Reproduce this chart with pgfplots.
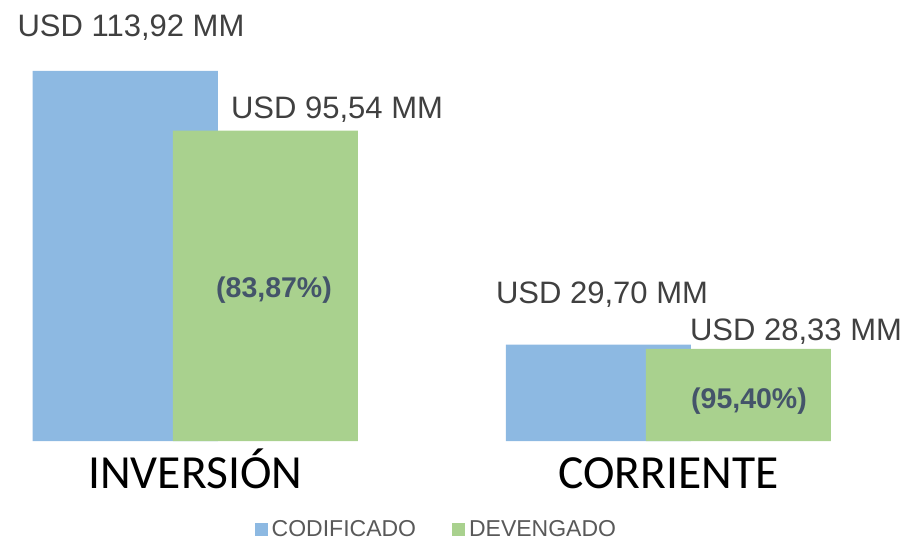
\documentclass[border=0pt]{standalone}
\usepackage{pgfplots}
\pgfplotsset{compat=1.18}
\usepackage{fontspec}
\setmainfont{Liberation Sans}
\newfontfamily\calibri{Carlito}
\definecolor{codblue}{HTML}{8DB9E2}
\definecolor{devgreen}{HTML}{A9D18E}
\definecolor{valgray}{HTML}{404040}
\definecolor{pctcol}{HTML}{44546A}
\definecolor{leggray}{HTML}{595959}
\begin{document}
\begin{tikzpicture}
\useasboundingbox (0,0) rectangle (910pt,542pt);
\begin{axis}[
  at={(0pt,101pt)}, anchor=south west,
  scale only axis, width=910pt, height=370pt,
  xmin=-0.41279, xmax=1.51110,
  ymin=0, ymax=113.92,
  clip=false,
  axis line style={draw=none},
  ytick=\empty,
  xtick={0,1}, xticklabels={INVERSIÓN,CORRIENTE},
  major tick length=0pt,
  xticklabel style={font=\calibri\fontsize{47.5}{52}\selectfont, text=black, anchor=base, yshift=-47pt},
  ybar, bar width=185pt,
  legend columns=2,
  legend style={draw=none, fill=none, at={(0.479,-0.238)}, anchor=center,
    font=\fontsize{23}{26}\selectfont, text=leggray, inner sep=0pt,
    nodes={inner sep=1pt},
    /tikz/every odd column/.append style={column sep=3pt},
    /tikz/every even column/.append style={column sep=35pt}},
  legend image code/.code={\fill[#1] (0pt,-6.5pt) rectangle (13pt,6.5pt);},
]
\addplot[fill=codblue, draw=none, bar shift=-70pt] coordinates {(0,113.92) (1,29.70)};
\addplot[fill=devgreen, draw=none, bar shift=70pt] coordinates {(0,95.54) (1,28.33)};
\legend{CODIFICADO,DEVENGADO}
\begin{scope}[every node/.style={font=\fontsize{31}{36}\selectfont, text=valgray, anchor=base, inner sep=0pt}]
\node[xshift=-64.25pt, yshift=34pt] at (axis cs:0,113.92) {USD 113,92 MM};
\node[xshift=141.75pt, yshift=12pt] at (axis cs:0,95.54) {USD 95,54 MM};
\node[xshift=-66.25pt, yshift=41pt] at (axis cs:1,29.70) {USD 29,70 MM};
\node[xshift=127.75pt, yshift=8pt] at (axis cs:1,28.33) {USD 28,33 MM};
\end{scope}
\begin{scope}[every node/.style={font=\bfseries\fontsize{28.5}{32}\selectfont, text=pctcol, anchor=center, inner sep=0pt}]
\node[xshift=78.75pt] at (axis cs:0,46.49) {(83,87\%)};
\node[xshift=80.75pt] at (axis cs:1,12.32) {(95,40\%)};
\end{scope}
\end{axis}
\end{tikzpicture}
\end{document}
